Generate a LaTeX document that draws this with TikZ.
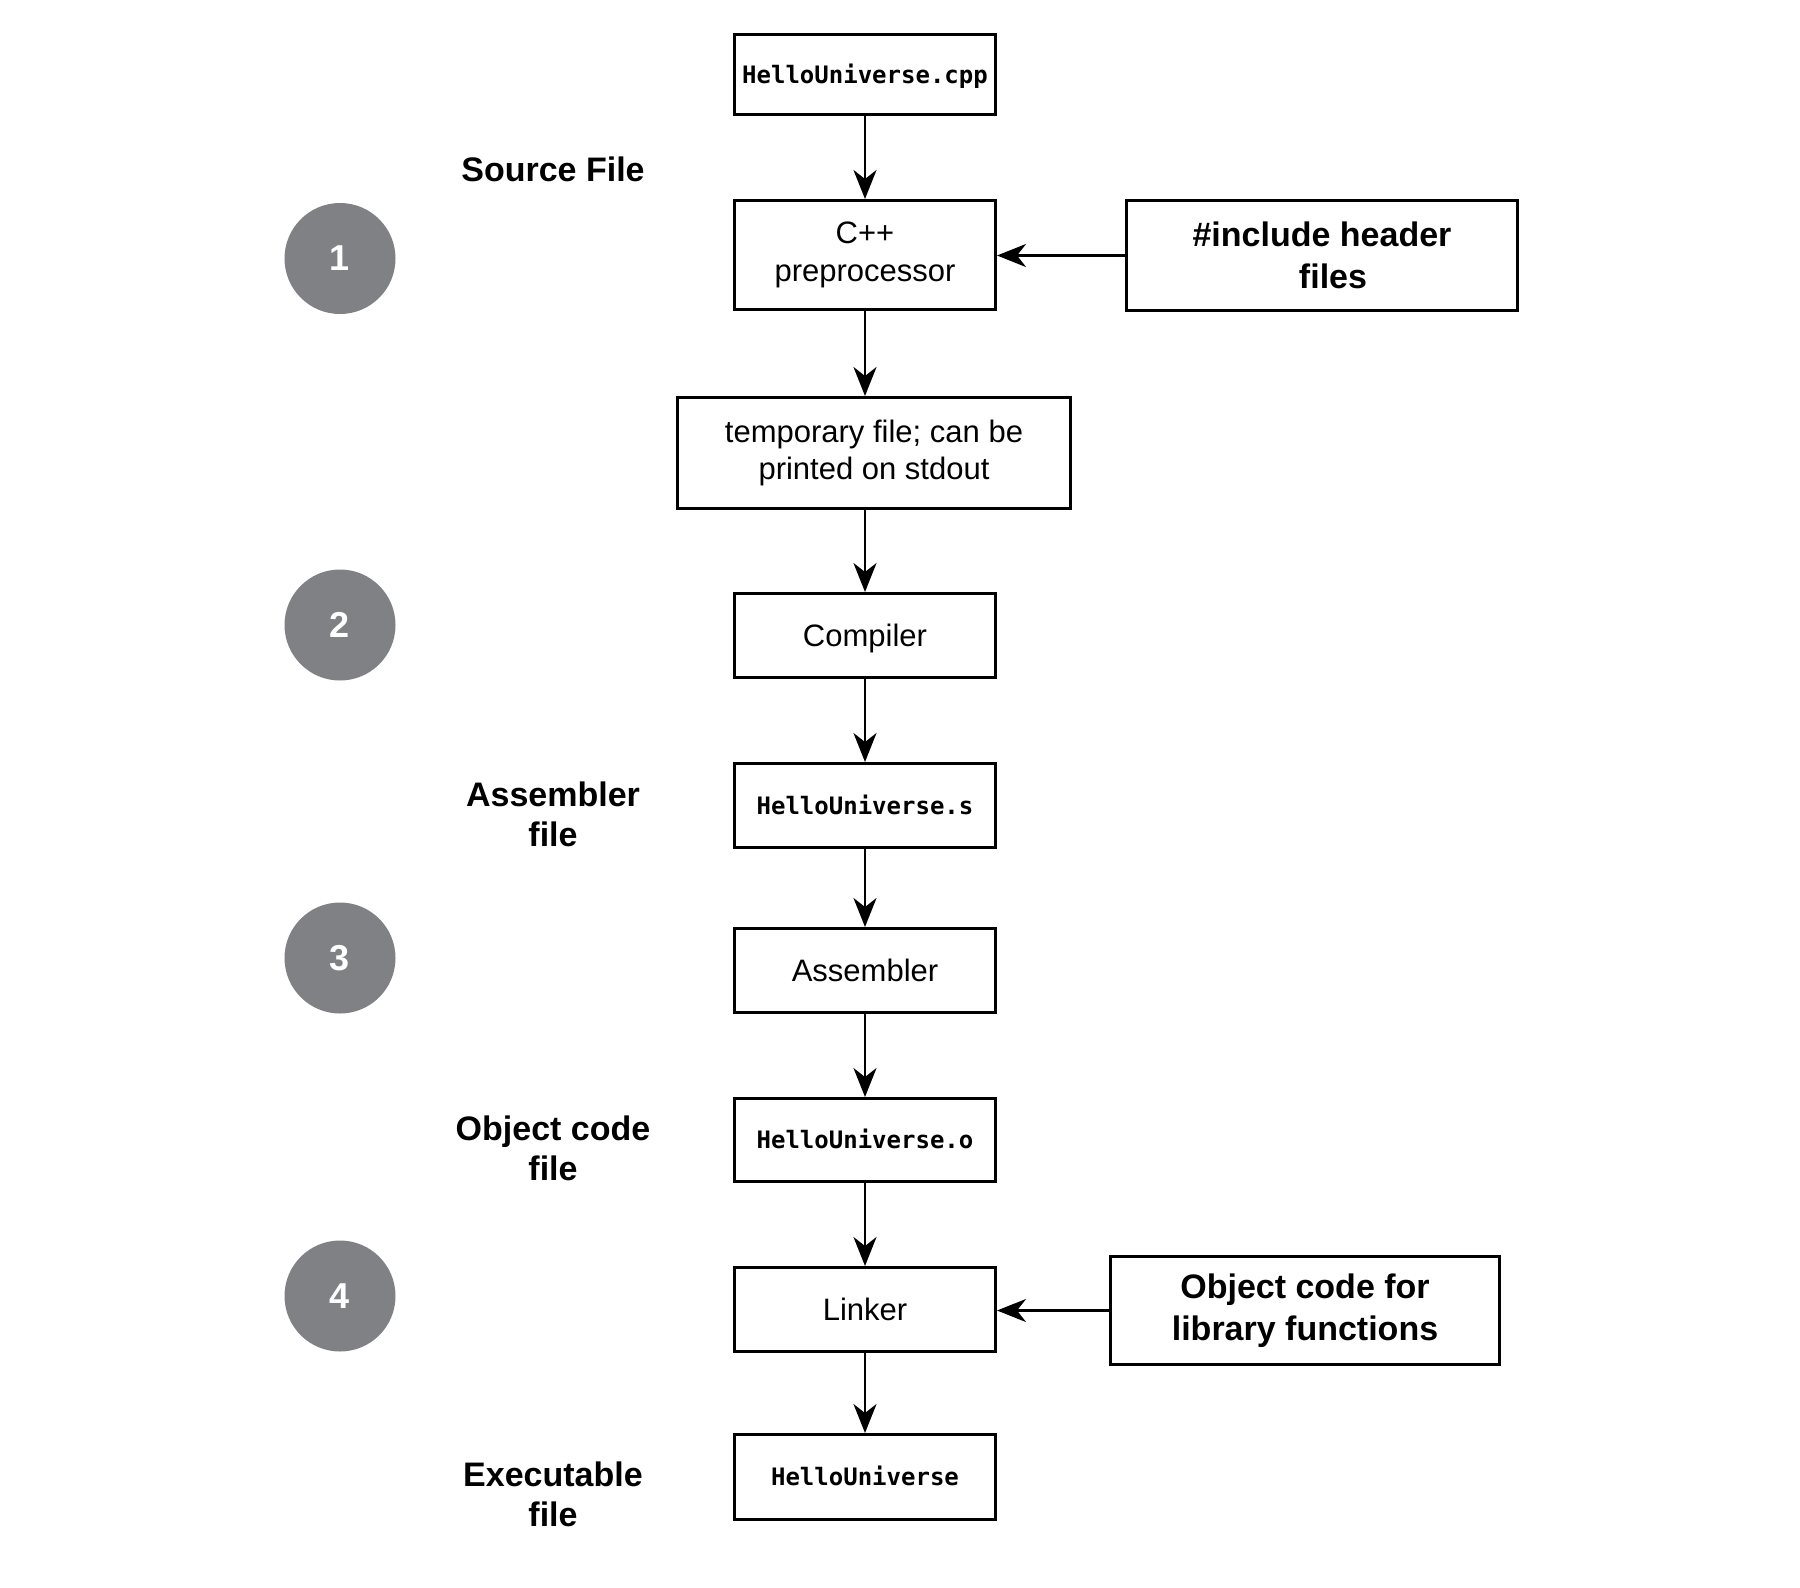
\documentclass[tikz,border=0pt]{standalone}
\usepackage{fontspec}
\setmainfont{Liberation Sans}
\setmonofont{DejaVu Sans Mono}
\usetikzlibrary{arrows.meta}
\definecolor{stepgray}{RGB}{128,129,133}
\begin{document}
\begin{tikzpicture}[x=1pt,y=-1pt,
  box/.style={draw=black, line width=3pt, rectangle, inner sep=0pt, fill=white},
  filebox/.style={box, minimum width=261pt, font=\ttfamily\bfseries\fontsize{24}{29}\selectfont, text height=17.5pt, text depth=0pt},
  procbox/.style={box, align=center, font=\fontsize{31}{37.5}\selectfont},
  procone/.style={box, minimum width=261pt, font=\fontsize{31}{37}\selectfont, text height=22.2pt, text depth=0pt},
  extbox/.style={box, align=center, font=\bfseries\fontsize{34}{41.5}\selectfont},
  steplabel/.style={font=\bfseries\fontsize{34}{40}\selectfont, align=center, inner sep=0pt},
  stepcircle/.style={circle, fill=stepgray, minimum size=111pt, inner sep=0pt, text=white, font=\bfseries\fontsize{36}{40}\selectfont},
  flow/.style={line width=2.5pt, -{Stealth[length=29pt,width=23pt,inset=9pt]}}
]
\fill[white] (0,0) rectangle (1800,1588);
\useasboundingbox (0,0) rectangle (1800,1588);

% boxes
\node[filebox, minimum height=80pt] (src) at (865,74.5) {HelloUniverse.cpp};
\node[procbox, minimum width=261pt, minimum height=109pt] (pre) at (865,255) {C++\\preprocessor};
\node[extbox, minimum width=391pt, minimum height=110pt] (inc) at (1322,255.5) {\#include header\\\hspace*{22pt}files};
\node[procbox, minimum width=393pt, minimum height=111pt] (tmp) at (874,453) {temporary file; can be\\printed on stdout};
\node[procone, minimum height=84pt] (cmp) at (865,635.5) {Compiler};
\node[filebox, minimum height=84pt] (asf) at (865,805.5) {HelloUniverse.s};
\node[procone, minimum height=84pt] (asb) at (865,970.5) {Assembler};
\node[filebox, minimum height=83pt] (obj) at (865,1140) {HelloUniverse.o};
\node[procone, minimum height=84pt] (lnk) at (865,1309.5) {Linker};
\node[extbox, minimum width=389pt, minimum height=108pt] (lib) at (1305,1310.5) {Object code for\\library functions};
\node[filebox, minimum height=85pt] (exe) at (865,1477) {HelloUniverse};

% connectors
\draw[flow] (src.south) -- (pre.north);
\draw[flow] (inc.west) -- (inc.west -| pre.east);
\draw[flow] (pre.south) -- (pre.south |- tmp.north);
\draw[flow] (tmp.south -| cmp.north) -- (cmp.north);
\draw[flow] (cmp.south) -- (asf.north);
\draw[flow] (asf.south) -- (asb.north);
\draw[flow] (asb.south) -- (obj.north);
\draw[flow] (obj.south) -- (lnk.north);
\draw[flow] (lib.west) -- (lib.west -| lnk.east);
\draw[flow] (lnk.south) -- (exe.north);

% step circles
\node[stepcircle] (s1) at (340,258.5) {1};
\node[stepcircle] (s2) at (340,625) {2};
\node[stepcircle] (s3) at (340,958) {3};
\node[stepcircle] (s4) at (340,1296) {4};

% side labels
\node[steplabel] (lsrc) at (553,169.5) {Source File};
\node[steplabel] (lasm) at (553,814) {Assembler\\file};
\node[steplabel] (lobj) at (553,1148) {Object code\\file};
\node[steplabel] (lexe) at (553,1494) {Executable\\file};
\end{tikzpicture}
\end{document}
